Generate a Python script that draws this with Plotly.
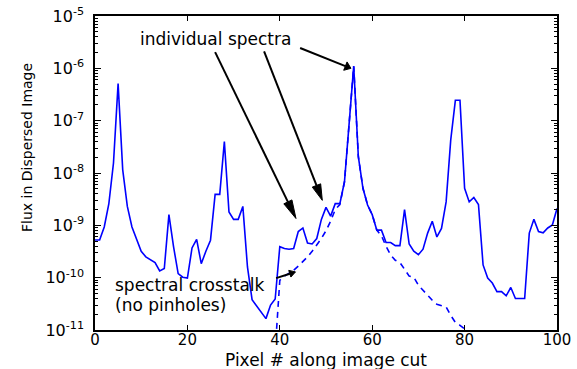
import numpy as np
import plotly.graph_objects as go

# ---- data -------------------------------------------------------------
pixel = list(range(0, 101))

# total flux along the cut (all spectra together)
flux_total = [
    5.25e-10, 5.25e-10, 9.3e-10, 2.6e-9, 1.55e-8, 5.1e-7, 1.15e-8, 2.3e-9, 9.3e-10, 5.2e-10,
    3.2e-10, 2.5e-10, 2.2e-10, 1.95e-10, 1.35e-10, 1.5e-10, 1.6e-9, 3.9e-10, 1.2e-10, 1.02e-10,
    9.8e-11, 3.7e-10, 5.4e-10, 1.85e-10, 3.2e-10, 5.2e-10, 3.9e-9, 3.9e-9, 4.0e-8, 1.8e-9,
    1.3e-9, 1.3e-9, 2.3e-9, 1.6e-10, 3.8e-11, 2.9e-11, 2.2e-11, 1.65e-11, 3.0e-11, 3.9e-11,
    3.9e-10, 3.6e-10, 3.5e-10, 3.6e-10, 7.6e-10, 8.9e-10, 4.6e-10, 4.4e-10, 5.6e-10, 1.3e-9,
    2.2e-9, 1.5e-9, 2.6e-9, 2.6e-9, 6.8e-9, 7.6e-8, 1.1e-6, 2.05e-8, 5.1e-9, 2.45e-9,
    1.6e-9, 8.1e-10, 8.1e-10, 4.7e-10, 4.7e-10, 4.1e-10, 4.1e-10, 2.0e-9, 4.4e-10, 3.2e-10,
    2.75e-10, 3.5e-10, 7.1e-10, 1.2e-9, 6.0e-10, 8.7e-10, 2.8e-9, 4.3e-8, 2.45e-7, 2.45e-7,
    5.1e-9, 2.8e-9, 3.4e-9, 2.5e-9, 1.75e-10, 9.8e-11, 7.9e-11, 5.4e-11, 5.4e-11, 4.5e-11,
    6.5e-11, 4.0e-11, 4.0e-11, 4.0e-11, 7.1e-10, 1.3e-9, 7.6e-10, 7.2e-10, 8.9e-10, 1.02e-9,
    2.1e-9,
]

# crosstalk from the single bright spectrum (no pinholes)
pixel_xt = list(range(39, 82))
flux_xt = [
    4.0e-12, 8.9e-11, 1.07e-10, 1.2e-10, 1.38e-10, 1.66e-10, 2.0e-10, 2.5e-10, 3.2e-10, 4.2e-10,
    5.6e-10, 7.9e-10, 1.2e-9, 2.0e-9, 2.5e-9, 6.8e-9, 7.6e-8, 1.1e-6, 2.05e-8, 5.1e-9,
    2.45e-9, 1.6e-9, 8.1e-10, 6.3e-10, 4.0e-10, 2.7e-10, 2.15e-10, 1.95e-10, 1.45e-10, 1.07e-10,
    1.02e-10, 7.2e-11, 5.75e-11, 4.6e-11, 3.7e-11, 3.1e-11, 2.9e-11, 2.75e-11, 1.9e-11, 1.4e-11,
    1.23e-11, 1.05e-11, 6.3e-12,
]

x_ticks = [0, 20, 40, 60, 80, 100]
y_exponents = [-11, -10, -9, -8, -7, -6, -5]
y_ticks = [10.0 ** e for e in y_exponents]
y_ticktext = ["10<sup>%d</sup>" % e for e in y_exponents]
y_minor = [m * 10.0 ** e for e in range(-11, -5) for m in range(2, 10)]

# annotation text anchors (x, flux)
label_spectra = ("individual spectra", 9.3, 3.6e-6)
label_xt_1 = ("spectral crosstalk", 3.9, 7.1e-11)
label_xt_2 = ("(no pinholes)", 3.9, 2.95e-11)

# arrows: (tail x, tail flux, tip x, tip flux)
arrows = [
    (26.0, 2.04e-6, 43.5, 1.35e-9),
    (36.6, 2.1e-6, 49.2, 3.0e-9),
    (44.4, 2.45e-6, 55.4, 1.0e-6),
    (39.2, 9.8e-11, 43.4, 1.29e-10),
]

# ---- geometry ---------------------------------------------------------
W, H = 577, 369
ML, MR, MT, MB = 95, 20, 16, 39
PW, PH = W - ML - MR, H - MT - MB
XR = (0, 100)
YR = (-11, -5)


def to_px(x, v):
    px = ML + (x - XR[0]) / (XR[1] - XR[0]) * PW
    py = MT + (YR[1] - np.log10(v)) / (YR[1] - YR[0]) * PH
    return px, py


def from_px(px, py):
    x = XR[0] + (px - ML) / PW * (XR[1] - XR[0])
    v = 10.0 ** (YR[1] - (py - MT) / PH * (YR[1] - YR[0]))
    return x, v


fig = go.Figure()

fig.add_trace(go.Scatter(
    x=pixel, y=flux_total, mode="lines",
    line=dict(color="#0000ff", width=1.6),
    hoverinfo="skip", showlegend=False,
))
fig.add_trace(go.Scatter(
    x=pixel_xt, y=flux_xt, mode="lines",
    line=dict(color="#0000ff", width=1.6, dash="6px,5px"),
    hoverinfo="skip", showlegend=False,
))

# arrows drawn as shaft + filled head (head length 10% of arrow length)
for tx, tv, hx, hv in arrows:
    x0, y0 = to_px(tx, tv)
    x1, y1 = to_px(hx, hv)
    dx, dy = x1 - x0, y1 - y0
    L = np.hypot(dx, dy)
    ux, uy = dx / L, dy / L
    nx, ny = -uy, ux
    hl = max(0.1 * L, 6.0)
    hw = 4.5 if L > 40 else 3.5
    bx, by = x1 - ux * hl, y1 - uy * hl
    sx, sy = from_px(x0, y0)
    ex, ey = from_px(bx, by)
    fig.add_trace(go.Scatter(
        x=[sx, ex], y=[sy, ey], mode="lines",
        line=dict(color="black", width=2), hoverinfo="skip", showlegend=False,
    ))
    pts = [(x1, y1), (bx + nx * hw, by + ny * hw), (bx - nx * hw, by - ny * hw)]
    hxs, hys = zip(*[from_px(p, q) for p, q in pts])
    fig.add_trace(go.Scatter(
        x=list(hxs) + [hxs[0]], y=list(hys) + [hys[0]], mode="lines",
        fill="toself", fillcolor="black", line=dict(color="black", width=1),
        hoverinfo="skip", showlegend=False,
    ))

font_main = "DejaVu Sans, Verdana, sans-serif"

annotations = []
for text, x, v in (label_spectra, label_xt_1, label_xt_2):
    annotations.append(dict(
        x=x, y=np.log10(v), xref="x", yref="y", text=text, showarrow=False,
        xanchor="left", yanchor="middle",
        font=dict(family=font_main, size=17, color="black"),
    ))

annotations.append(dict(
    x=-0.147, y=0.58, xref="paper", yref="paper", text="Flux in Dispersed Image",
    textangle=-90, showarrow=False, xanchor="center", yanchor="middle",
    font=dict(family=font_main, size=14, color="black"),
))

annotations.append(dict(
    x=0.5, y=-0.097, xref="paper", yref="paper", text="Pixel # along image cut",
    showarrow=False, xanchor="center", yanchor="middle",
    font=dict(family=font_main, size=17, color="black"),
))

fig.update_layout(
    width=W, height=H,
    margin=dict(l=ML, r=MR, t=MT, b=MB, pad=0, autoexpand=False),
    paper_bgcolor="white", plot_bgcolor="white",
    annotations=annotations,
    showlegend=False,
)

fig.update_xaxes(
    range=list(XR), tickvals=x_ticks, ticktext=[str(t) for t in x_ticks],
    showgrid=False, zeroline=False, automargin=False,
    showline=True, linecolor="black", linewidth=1.5, mirror="allticks",
    ticks="inside", ticklen=5, tickwidth=1, tickcolor="black",
    tickfont=dict(family=font_main, size=15, color="black"),
    ticklabelstandoff=-5,
)

fig.update_yaxes(
    type="log", range=list(YR), tickvals=y_ticks, ticktext=y_ticktext,
    showgrid=False, zeroline=False, automargin=False,
    showline=True, linecolor="black", linewidth=1.5, mirror="allticks",
    ticks="inside", ticklen=6, tickwidth=1, tickcolor="black",
    tickfont=dict(family=font_main, size=16, color="black"),
    ticklabelstandoff=6,
    minor=dict(tickvals=y_minor, ticks="inside", ticklen=3, tickwidth=1,
               tickcolor="black", showgrid=False),
)

fig.write_html("out.html")
